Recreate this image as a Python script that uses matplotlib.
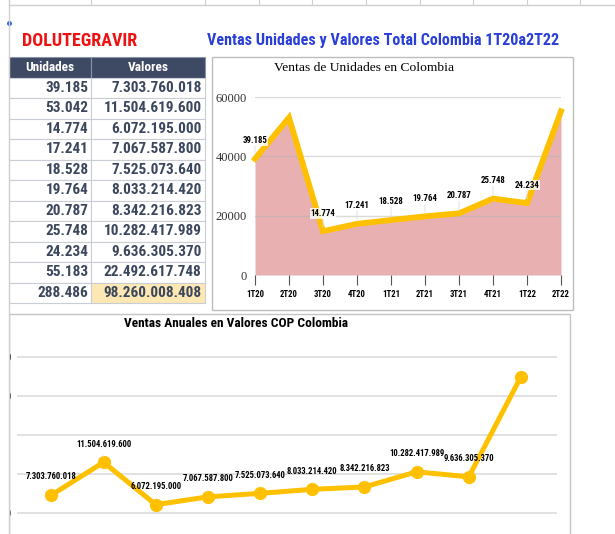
# Tabla + graficos de ventas DOLUTEGRAVIR (Colombia 1T20 - 2T22)

import matplotlib
matplotlib.use("Agg")
import matplotlib.pyplot as plt
from matplotlib import font_manager
from matplotlib.patches import Rectangle
from matplotlib.ticker import FuncFormatter

quarters = ['1T20', '2T20', '3T20', '4T20', '1T21', '2T21', '3T21', '4T21', '1T22', '2T22']
unidades = [39185, 53042, 14774, 17241, 18528, 19764, 20787, 25748, 24234, 55183]
valores = [7303760018, 11504619600, 6072195000, 7067587800, 7525073640,
           8033214420, 8342216823, 10282417989, 9636305370, 22492617748]
# quarters whose point has no data label
sin_etiqueta_unidades = ['2T20', '2T22']
sin_etiqueta_valores = ['2T22']

YELLOW = '#ffc000'
NAVY = '#3e4a63'
SERIF = ['Liberation Serif', 'DejaVu Serif']

# use a narrow sans if the system has one, else plain Liberation Sans a bit smaller
names = {f.name for f in font_manager.fontManager.ttflist}
narrow = [n for n in ['Liberation Sans Narrow', 'Roboto Condensed', 'Arial Narrow',
                      'Nimbus Sans Narrow'] if n in names]
if narrow:
    SANS = [narrow[0], 'Liberation Sans', 'DejaVu Sans']
    K = 1.0
else:
    SANS = ['Liberation Sans', 'DejaVu Sans']
    K = 0.84


def sz(s):
    return s * K


def fmt(v):
    # thousands separated with dots
    return f"{v:,}".replace(',', '.')


W, H = 615, 534
fig = plt.figure(figsize=(W / 100, H / 100), dpi=100)


def px_axes(left, top, right, bottom, **kw):
    return fig.add_axes([left / W, 1 - bottom / H, (right - left) / W, (bottom - top) / H], **kw)


# background layer in pixel coords (boxes, titles)
bg = fig.add_axes([0, 0, 1, 1])
bg.set_xlim(0, W)
bg.set_ylim(H, 0)
bg.axis('off')

bg.plot([9, W], [5, 5], color='#d0d0d0', lw=1)
for xv in [9, 91, 205, 259, 312, 366, 420, 473, 527, 580]:
    bg.plot([xv, xv], [0, 5], color='#d0d0d0', lw=0.8)
bg.plot([9], [23], 'o', color='#2a5bd7', ms=2.5)

bg.text(22, 41, 'DOLUTEGRAVIR', color='#ee1111', fontsize=sz(13), fontweight='bold',
        family=SANS, va='center', ha='left')
bg.text(207, 41, 'Ventas Unidades y Valores Total Colombia 1T20a2T22', color='#2a3fd6',
        fontsize=sz(11.6), fontweight='bold', family=SANS, va='center', ha='left')

bg.add_patch(Rectangle((212, 57), 361, 253, fill=False, edgecolor='#bdbdbd', lw=1))
bg.add_patch(Rectangle((9, 314), 561, 230, fill=False, edgecolor='#c4c4c4', lw=1))

# ---- table ----
tax = px_axes(9, 57, 205, 303)
tax.axis('off')
rows = [[fmt(u), fmt(v)] for u, v in zip(unidades, valores)]
rows.append([fmt(sum(unidades)), fmt(sum(valores))])
tbl = tax.table(cellText=rows, colLabels=['Unidades', 'Valores'],
                colWidths=[82 / 196, 114 / 196], bbox=[0, 0, 1, 1])
tbl.auto_set_font_size(False)
for (r, c), cell in tbl.get_celld().items():
    cell.set_edgecolor('#c9ced6')
    cell.set_linewidth(0.8)
    txt = cell.get_text()
    txt.set_fontweight('bold')
    txt.set_family(SANS)
    if r == 0:
        cell.set_facecolor(NAVY)
        cell.set_edgecolor('#8a93a6')
        txt.set_color('white')
        txt.set_fontsize(sz(9.6))
        cell._loc = 'center'
        txt.set_ha('center')
    else:
        txt.set_color('#3b475c')
        txt.set_fontsize(sz(11.0))
        cell._loc = 'right'
        txt.set_ha('right')
        cell.PAD = 0.03
        if r == len(rows) and c == 1:
            cell.set_facecolor('#fde8b4')

# ---- area chart: units ----
ax1 = px_axes(255, 97, 561, 275)
x = list(range(len(quarters)))
ax1.fill_between(x, unidades, 0, color='#e8b0b0', lw=0, zorder=1)
ax1.plot(x, unidades, color=YELLOW, lw=4.2, solid_joinstyle='miter', zorder=3, clip_on=False)
ax1.set_xlim(0, len(quarters) - 1)
ax1.set_ylim(0, 60000)
ax1.set_yticks([0, 20000, 40000, 60000])
ax1.grid(axis='y', color='#b0b0b0', alpha=0.45, lw=1, zorder=2)
ax1.set_axisbelow(False)
for s in ax1.spines.values():
    s.set_visible(False)
ax1.set_xticks(x)
ax1.set_xticklabels(quarters, fontsize=sz(6.3), fontweight='bold', family=SANS)
ax1.tick_params(axis='x', length=7, width=0.8, color='#555555', pad=4)
ax1.tick_params(axis='y', length=0, pad=6, labelsize=9, labelcolor='#333333')
for lab in ax1.get_yticklabels():
    lab.set_family(SERIF)
ax1.set_title('Ventas de Unidades en Colombia', family=SERIF, fontsize=9.7, pad=19,
              x=0.356)
for q, xi, u in zip(quarters, x, unidades):
    if q in sin_etiqueta_unidades:
        continue
    ax1.annotate(fmt(u), xy=(xi, u), xytext=(0, 13), textcoords='offset points',
                 ha='center', va='center', fontsize=sz(6.4), fontweight='bold', family=SANS,
                 bbox=dict(boxstyle='square,pad=0.1', fc='white', ec='none', alpha=0.8),
                 arrowprops=dict(arrowstyle='-', color='#dddddd', lw=0.6, shrinkA=0, shrinkB=3),
                 zorder=4)

# ---- line chart: values ----
ax2 = px_axes(17, 335, 557, 534)
ax2.plot(x, valores, color=YELLOW, lw=3.6, marker='o', ms=8.5, zorder=3, clip_on=False)
ax2.set_xlim(-0.66, 9.69)
ax2.set_ylim(2.31e9, 27.82e9)
ax2.set_yticks([5e9, 10e9, 15e9, 20e9, 25e9])
ax2.yaxis.set_major_formatter(FuncFormatter(lambda v, p: fmt(int(v))))
ax2.tick_params(axis='y', length=0, pad=4, labelsize=7, labelcolor='#222222')
ax2.set_xticks([])
ax2.grid(axis='y', color='#dcdcdc', lw=1.2, zorder=0)
for s in ax2.spines.values():
    s.set_visible(False)
ax2.set_facecolor('none')
ax2.set_title('Ventas Anuales en Valores COP Colombia', fontsize=sz(9.6), fontweight='bold',
              family=SANS, x=0.405, pad=6)
for q, xi, v in zip(quarters, x, valores):
    if q in sin_etiqueta_valores:
        continue
    ax2.annotate(fmt(v), xy=(xi, v), xytext=(0, 13), textcoords='offset points',
                 ha='center', va='center', fontsize=sz(6.2), fontweight='bold', family=SANS,
                 arrowprops=dict(arrowstyle='-', color='#dddddd', lw=0.6, shrinkA=3, shrinkB=4),
                 zorder=4)

# the sheet cuts the chart off at its left column border
top = fig.add_axes([0, 0, 1, 1])
top.set_xlim(0, W)
top.set_ylim(H, 0)
top.axis('off')
top.add_patch(Rectangle((0, 315), 9, H - 315, facecolor='white', edgecolor='none'))
top.plot([9, 9], [0, H], color='#d0d0d0', lw=1)

fig.savefig('out.png', dpi=100)
